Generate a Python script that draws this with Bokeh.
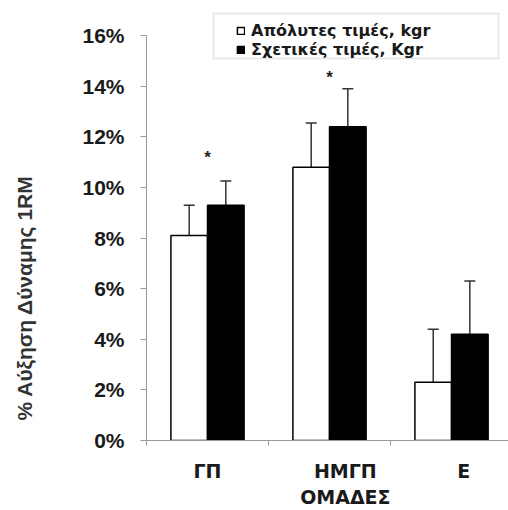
from bokeh.plotting import figure
from bokeh.models import (Range1d, FixedTicker, Whisker, TeeHead, ColumnDataSource,
                          Legend, LegendItem, BoxAnnotation, Title)
from bokeh.core.properties import value
from bokeh.embed import file_html
from bokeh.resources import INLINE

# ---- data ----
groups = ["ΓΠ", "ΗΜΓΠ", "Ε"]
x_title = "ΟΜΑΔΕΣ"
y_title = "% Αύξηση Δύναμης 1RM"
absolute_vals = [8.1, 10.8, 2.3]        # % increase, absolute 1RM (kgr)
absolute_err_top = [9.3, 12.55, 4.4]
relative_vals = [9.3, 12.4, 4.2]        # % increase, relative 1RM (Kgr)
relative_err_top = [10.25, 13.9, 6.3]
star_groups = [0, 1]
star_heights = [11.3, 14.45]
y_ticks = [0, 2, 4, 6, 8, 10, 12, 14, 16]
y_tick_labels = ["0%", "2%", "4%", "6%", "8%", "10%", "12%", "14%", "16%"]
series_names = ["Απόλυτες τιμές, kgr", "Σχετικές τιμές, Kgr"]

FONT = "Liberation Sans"
WIDE = "DejaVu Sans"
W, H = 508, 510

p = figure(width=W, height=H, output_backend="svg", toolbar_location=None,
           x_range=Range1d(0, 2.967), y_range=Range1d(0, 17.07),
           min_border_left=146, min_border_right=0, min_border_top=8,
           min_border_bottom=70)
p.outline_line_color = None
p.grid.visible = False
p.background_fill_color = "white"
p.border_fill_color = "white"

n = len(groups)
bw = 0.3
x_abs = [i + 0.5 - bw / 2 for i in range(n)]
x_rel = [i + 0.5 + bw / 2 for i in range(n)]

src_abs = ColumnDataSource(dict(x=x_abs, top=absolute_vals, up=absolute_err_top))
src_rel = ColumnDataSource(dict(x=x_rel, top=relative_vals, up=relative_err_top))

for src in (src_abs, src_rel):
    p.add_layout(Whisker(source=src, base="x", lower="top", upper="up",
                         line_color="#333333", line_width=1.5,
                         upper_head=TeeHead(size=11, line_color="#333333", line_width=1.5),
                         lower_head=None))

r_abs = p.vbar(x="x", top="top", width=bw, source=src_abs,
               fill_color="white", line_color="black", line_width=1.5)
r_rel = p.vbar(x="x", top="top", width=bw, source=src_rel,
               fill_color="black", line_color="black", line_width=1.5)

# significance stars
p.text(x=[g + 0.5 for g in star_groups], y=star_heights, text=["*"] * len(star_groups),
       text_font=value(FONT), text_font_style="bold", text_font_size="17px",
       text_align="center", text_baseline="middle", y_offset=3, text_color="#222222")

# y axis
ya = p.yaxis[0]
ya.ticker = FixedTicker(ticks=y_ticks)
ya.major_label_overrides = {t: l for t, l in zip(y_ticks, y_tick_labels)}
ya.bounds = (0, 16)
ya.axis_line_color = "#999999"
ya.major_tick_line_color = "#999999"
ya.major_tick_out = 6
ya.major_tick_in = 0
ya.minor_tick_line_color = None
ya.major_label_standoff = 16
ya.major_label_text_font = FONT
ya.major_label_text_font_style = "bold"
ya.major_label_text_font_size = "21px"
ya.major_label_text_color = "#1a1a1a"
# blank axis label only reserves room so the title below sits at the far left
ya.axis_label = " "
ya.axis_label_standoff = 9
ya.axis_label_text_font_size = "21px"

# y title (placed in its own left panel, aligned from the bottom)
p.add_layout(Title(text=y_title, align="left", offset=20, standoff=18,
                   text_font=FONT, text_font_style="bold", text_font_size="21px",
                   text_color="#333333"), "left")

# x axis (group title as second line of the middle label)
xa = p.xaxis[0]
label_pos = [0.5, 1.63, 2.6]
x_labels = [groups[0], groups[1] + "\n" + x_title, groups[2]]
xa.ticker = FixedTicker(ticks=label_pos, minor_ticks=[0, 1, 2, 3])
xa.major_label_overrides = {t: g for t, g in zip(label_pos, x_labels)}
xa.axis_line_color = "#999999"
xa.major_tick_line_color = None
xa.major_tick_out = 0
xa.major_tick_in = 0
xa.minor_tick_line_color = "#999999"
xa.minor_tick_out = 5
xa.minor_tick_in = 0
xa.major_label_standoff = 14
xa.major_label_text_line_height = 1.2
xa.major_label_text_font = WIDE
xa.major_label_text_font_style = "bold"
xa.major_label_text_font_size = "19px"
xa.major_label_text_color = "#1a1a1a"

# legend box
p.add_layout(BoxAnnotation(left=0.549, right=2.885, bottom=15.09, top=16.87,
                           fill_color="white", fill_alpha=1.0,
                           line_color="#aaaaaa", line_width=1.5))

legend_y = [400, 381]
for name, rend, ly in zip(series_names, [r_abs, r_rel], legend_y):
    lg = Legend(items=[LegendItem(label=name, renderers=[rend])],
                location=(90, ly), orientation="vertical",
                border_line_color=None, background_fill_alpha=0.0,
                padding=0, spacing=0, margin=0,
                glyph_width=9, glyph_height=9, label_height=20,
                label_standoff=6,
                label_text_font=WIDE, label_text_font_style="bold",
                label_text_font_size="16px", label_text_color="#1a1a1a")
    p.add_layout(lg, "center")

open("out.html", "w").write(file_html(p, INLINE))
